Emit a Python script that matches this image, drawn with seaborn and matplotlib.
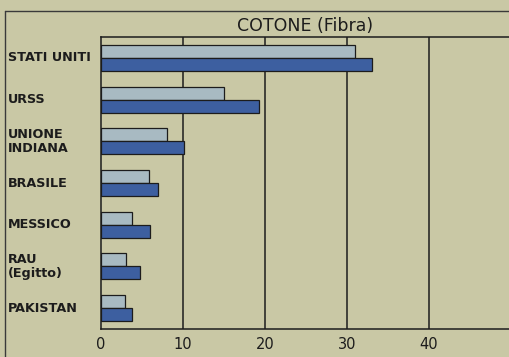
import matplotlib
matplotlib.use("Agg")
import matplotlib.pyplot as plt
from matplotlib.lines import Line2D
import matplotlib.transforms as mtransforms
import seaborn as sns
import pandas as pd

# Cotton fibre output by country, two periods
countries = ["STATI UNITI", "URSS", "UNIONE\nINDIANA", "BRASILE", "MESSICO", "RAU\n(Egitto)", "PAKISTAN"]
series_names = ["periodo 1", "periodo 2"]
values_first = [31.0, 15.0, 8.0, 5.8, 3.8, 3.0, 2.9]
values_second = [33.0, 19.3, 10.1, 6.9, 6.0, 4.8, 3.8]
x_ticks = [0, 10, 20, 30, 40]
title = "COTONE (Fibra)"

bg = "#c9c8a5"
light = "#a8bac2"
dark = "#3d5fa0"
ink = "#1c1c1c"

df = pd.DataFrame({
    "paese": countries * 2,
    "serie": [series_names[0]] * len(countries) + [series_names[1]] * len(countries),
    "valore": values_first + values_second,
})

sns.set_theme(style="white")
plt.rcParams["font.family"] = ["DejaVu Sans"]

W, H = 509, 357
fig = plt.figure(figsize=(W / 100, H / 100), dpi=100, facecolor=bg)
ax = fig.add_axes([101 / W, (H - 329) / H, 410 / W, 292 / H])
ax.set_facecolor(bg)

sns.barplot(data=df, y="paese", x="valore", hue="serie", order=countries,
            hue_order=series_names, palette=[light, dark], orient="h",
            width=0.62, edgecolor=ink, linewidth=0.9, saturation=1,
            legend=False, ax=ax)

ax.set_xlim(0, 50)
ax.set_ylim(len(countries) - 0.5, -0.5)
ax.set_xlabel("")
ax.set_ylabel("")
ax.set_xticks(x_ticks)
ax.set_xticklabels([str(t) for t in x_ticks], fontsize=10.5, color=ink)
ax.tick_params(axis="x", length=0, pad=6)
ax.set_yticks(range(len(countries)))
ax.set_yticklabels([])
ax.tick_params(axis="y", length=0)

for t in x_ticks[1:]:
    ax.axvline(t, color=ink, lw=1.1, zorder=0)

for side in ["left", "bottom", "top"]:
    ax.spines[side].set_color(ink)
    ax.spines[side].set_linewidth(1.1)
ax.spines["right"].set_visible(False)

# country names, left aligned at the figure edge
trans = mtransforms.blended_transform_factory(fig.transFigure, ax.transData)
for i, name in enumerate(countries):
    ax.text(8 / W, i, name, transform=trans, ha="left", va="center",
            fontsize=9.2, fontweight="bold", color=ink, linespacing=1.1)

# outer frame and title
fig.add_artist(Line2D([5 / W, 5 / W], [0, (H - 11) / H], color="#3a3a3a", lw=1.0))
fig.add_artist(Line2D([5 / W, 1], [(H - 11) / H, (H - 11) / H], color="#3a3a3a", lw=1.0))
fig.text(305 / W, (H - 26) / H, title, ha="center", va="center",
         fontsize=12.5, fontweight="medium", color=ink)

fig.savefig("out.png", dpi=100, facecolor=bg)
